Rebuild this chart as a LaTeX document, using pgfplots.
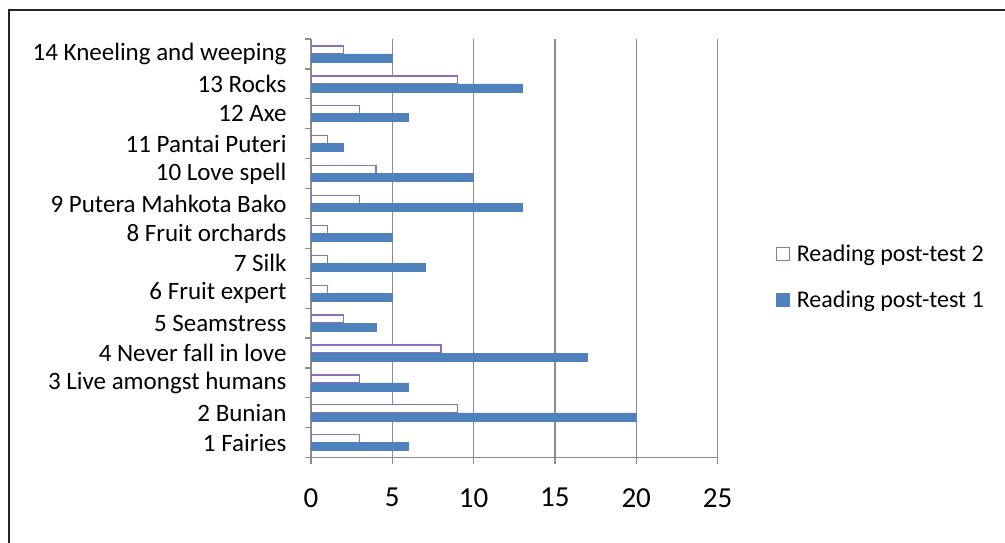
\documentclass[border=0pt]{standalone}
\usepackage{fontspec}
\setmainfont{Carlito}
\usepackage{pgfplots}
\pgfplotsset{compat=1.18}
\definecolor{bblue}{HTML}{4F81BD}
\definecolor{ppurple}{HTML}{8E6DBA}
\definecolor{gridg}{HTML}{8C8C8C}
\begin{document}
\begin{tikzpicture}[x=1pt,y=1pt]
\path[use as bounding box] (0pt,0pt) rectangle (1005pt,543pt);
\draw[line width=2pt, black!85] (8.5pt,-5pt) -- (8.5pt,533pt) -- (1010pt,533pt);
\begin{axis}[at={(311pt,85.3pt)}, anchor=south west, scale only axis,
  width=406.5pt, height=418.7pt,
  xbar, xmin=0, xmax=25, ymin=0.5, ymax=14.5,
  bar width=8pt,
  axis x line*=bottom, axis y line*=left,
  axis line style={gridg, line width=1.2pt, -},
  xtick={0,5,...,25}, xmajorgrids, grid style={gridg, line width=1.2pt},
  ytick={0.5,1.5,...,14.5}, yticklabels={},
  extra y ticks={1,...,14},
  extra y tick labels={1 Fairies, 2 Bunian, 3 Live amongst humans, 4 Never fall in love, 5 Seamstress, 6 Fruit expert, 7 Silk, 8 Fruit orchards, 9 Putera Mahkota Bako, 10 Love spell, 11 Pantai Puteri, 12 Axe, 13 Rocks, 14 Kneeling and weeping},
  extra tick style={major tick length=0pt, grid=none},
  tick align=outside, major tick length=6pt,
  tick style={gridg, line width=1.2pt},
  /pgf/number format/assume math mode=true,
  yticklabel style={font=\fontsize{25}{25}\selectfont, xshift=-21pt},
  xticklabel style={font=\fontsize{29}{29}\selectfont, yshift=-21pt},
  legend style={at={(1.135,0.4316)}, anchor=west, draw=none, fill=none,
    font=\fontsize{24}{24}\selectfont, row sep=24pt, column sep=5pt},
  legend cell align=left,
  legend image code/.code={\draw[#1, bar shift=0pt] (0pt,-6.5pt) rectangle (13pt,6.5pt);},
]
\addplot[bar shift=4pt, fill=white, draw=ppurple, line width=1.3pt] coordinates {
(3,1) (9,2) (3,3) (8,4) (2,5) (1,6) (1,7) (1,8) (3,9) (4,10) (1,11) (3,12) (9,13) (2,14)};
\addplot[bar shift=-4pt, fill=bblue, draw=bblue, line width=0.6pt] coordinates {
(6,1) (20,2) (6,3) (17,4) (4,5) (5,6) (7,7) (5,8) (13,9) (10,10) (2,11) (6,12) (13,13) (5,14)};
\legend{Reading post-test 2, Reading post-test 1}
\end{axis}
\end{tikzpicture}
\end{document}
